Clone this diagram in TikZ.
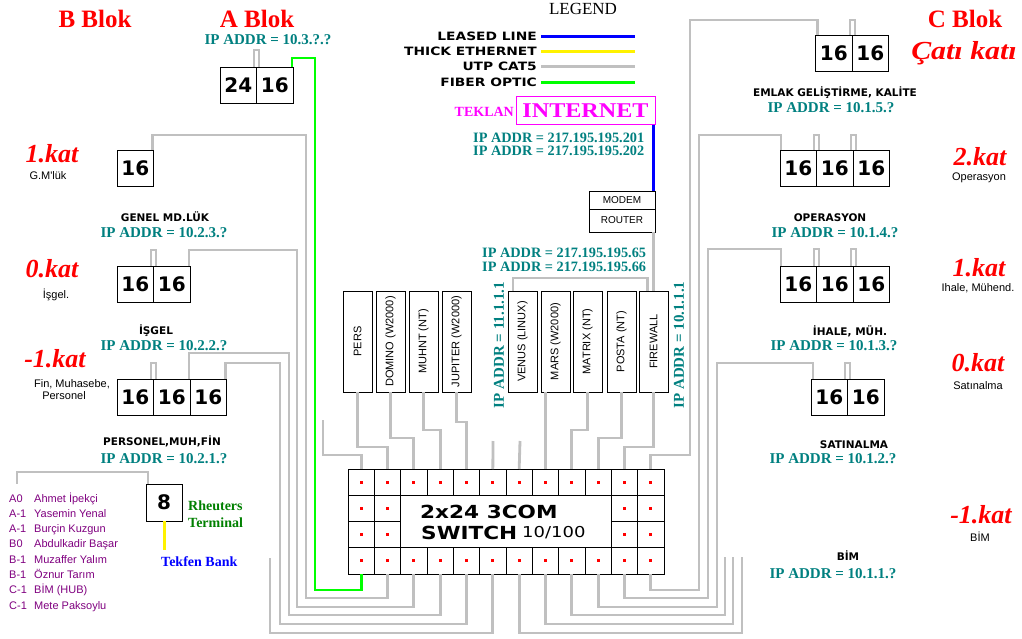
\documentclass[tikz,border=0pt]{standalone}
\usepackage{fontspec}
\setmainfont{Liberation Serif}
\newfontfamily\arialf{Liberation Sans}
\newfontfamily\verdf{DejaVu Sans}
\newfontfamily\widef{DejaVu Sans}[FakeStretch=1.2]
\usetikzlibrary{positioning}
\definecolor{cablegray}{RGB}{192,192,192}
\definecolor{fibergreen}{RGB}{0,255,0}
\definecolor{ipteal}{RGB}{0,128,128}
\definecolor{lstpurple}{RGB}{128,0,128}
\definecolor{rhgreen}{RGB}{0,128,0}
\definecolor{inetmag}{RGB}{255,0,255}

\begin{document}
\begin{tikzpicture}[x=1pt, y=-1pt, every node/.style={inner sep=0pt},
  utp/.style={draw=cablegray, line width=2.8},
  fiber/.style={draw=fibergreen, line width=2.8},
  stubline/.style={draw=cablegray, line width=2},
  numbox/.style={draw, fill=white, line width=0.9, minimum width=36.5, minimum height=36, outer sep=0,
    font=\verdf\bfseries\fontsize{20}{20}\selectfont},
  srv/.style={draw, fill=white, line width=0.9, rotate=90, minimum width=101, minimum height=29, outer sep=0,
    font=\arialf\fontsize{11}{11}\selectfont},
  ipaddr/.style={text=ipteal, font=\bfseries\fontsize{15}{15}\selectfont, anchor=base},
  ipnet/.style={text=ipteal, font=\bfseries\fontsize{14.3}{15}\selectfont, anchor=base west},
  blok/.style={text=red, font=\bfseries\fontsize{25}{25}\selectfont, anchor=base},
  katlbl/.style={text=red, font=\bfseries\itshape\fontsize{26}{26}\selectfont, anchor=base},
  dept/.style={font=\verdf\bfseries\fontsize{10.5}{11}\selectfont, anchor=base},
  note/.style={font=\arialf\fontsize{11}{12}\selectfont, anchor=base},
  lgd/.style={font=\widef\bfseries\fontsize{11.5}{12}\selectfont, anchor=base east},
  lst/.style={text=lstpurple, font=\arialf\fontsize{11}{12}\selectfont, anchor=base west}]

\useasboundingbox (0,0) rectangle (1022,639);
\fill[white] (0,0) rectangle (1022,639);

% --- legend ---
\node[font=\fontsize{17}{17}\selectfont, anchor=base] (legend) at (583,15) {LEGEND};
\node[lgd] (lg1) at (537,41) {LEASED LINE};
\node[lgd] (lg2) at (537,56) {THICK ETHERNET};
\node[lgd] (lg3) at (537,71) {UTP CAT5};
\node[lgd] (lg4) at (537,87) {FIBER OPTIC};
\draw[line width=3, blue] ([xshift=4pt,yshift=4pt]lg1.base east) -- ++(94,0);
\draw[line width=3, yellow] ([xshift=4pt,yshift=4pt]lg2.base east) -- ++(94,0);
\draw[line width=3, cablegray] ([xshift=4pt,yshift=4pt]lg3.base east) -- ++(94,0);
\draw[line width=3, fibergreen] ([xshift=4pt,yshift=4pt]lg4.base east) -- ++(94,0);

% --- blocks and floors ---
\node[blok] (bblok) at (95,28) {B Blok};
\node[blok] (ablok) at (257,28) {A Blok};
\node[blok] (cblok) at (965,28) {C Blok};
\node[katlbl] (catikati) at (964,60) {\scalebox{1.15}[1]{Çatı katı}};
\node[ipaddr] (ipa) at (268,45) {IP ADDR = 10.3.?.?};

\node[katlbl] (lk1) at (52,163) {1.kat};
\node[note] (gml) at (48,180) {G.M'lük};
\node[katlbl] (lk0) at (52,277) {0.kat};
\node[note] (isgel) at (56,298) {İşgel.};
\node[katlbl] (lkm) at (55,367) {-1.kat};
\node[note] (finmuh) at (72,387) {Fin, Muhasebe,};
\node[note] (persnl) at (64,399) {Personel};

\node[katlbl] (rk2) at (980,166) {2.kat};
\node[note] (opersy) at (979,181) {Operasyon};
\node[katlbl] (rk1) at (979,276) {1.kat};
\node[note] (ihalem) at (978,291) {Ihale, Mühend.};
\node[katlbl] (rk0) at (978,371) {0.kat};
\node[note] (satin) at (978,389) {Satınalma};
\node[katlbl] (rkm) at (981,523) {-1.kat};
\node[note] (bimk) at (980,541) {BİM};

\node[dept] (genel) at (165,222) {GENEL MD.LÜK};
\node[ipaddr] (ip23) at (164,237) {IP ADDR = 10.2.3.?};
\node[dept] (isgelb) at (156,334) {İŞGEL};
\node[ipaddr] (ip22) at (164,350) {IP ADDR = 10.2.2.?};
\node[dept] (persmf) at (162,445) {PERSONEL,MUH,FİN};
\node[ipaddr] (ip21) at (164,463) {IP ADDR = 10.2.1.?};

\node[dept] (emlak) at (835,97) {EMLAK GELİŞTİRME, KALİTE};
\node[ipaddr] (ip15) at (831,113) {IP ADDR = 10.1.5.?};
\node[dept] (operb) at (830,222) {OPERASYON};
\node[ipaddr] (ip14) at (835,237) {IP ADDR = 10.1.4.?};
\node[dept] (ihaleb) at (850,335) {İHALE, MÜH.};
\node[ipaddr] (ip13) at (834,350) {IP ADDR = 10.1.3.?};
\node[dept] (satinb) at (854,448) {SATINALMA};
\node[ipaddr] (ip12) at (833,463) {IP ADDR = 10.1.2.?};
\node[dept] (bimb) at (848,560) {BİM};
\node[ipaddr] (ip11) at (833,578) {IP ADDR = 10.1.1.?};

% --- internet, modem, router ---
\node[draw=inetmag, line width=1, text=inetmag, minimum width=139, minimum height=28, outer sep=0, anchor=north west,
  font=\bfseries\fontsize{21}{21}\selectfont] (inet) at (516,97) {\scalebox{1.15}[1]{INTERNET}};
\node[text=inetmag, font=\bfseries\fontsize{14}{14}\selectfont, anchor=base east] (teklan) at (514,117) {TEKLAN};
\node[ipnet] (ip201) at (473,143) {IP ADDR = 217.195.195.201};
\node[ipnet] (ip202) at (473,156) {IP ADDR = 217.195.195.202};
\node[draw, fill=white, line width=0.9, minimum width=66, minimum height=18, outer sep=0, anchor=north west,
  font=\arialf\fontsize{10}{10}\selectfont] (modem) at (589,191) {MODEM};
\node[draw, fill=white, line width=0.9, minimum width=66, minimum height=23, outer sep=0, below=0pt of modem,
  font=\arialf\fontsize{10}{10}\selectfont] (router) {ROUTER};
\node[ipnet] (ip65) at (482,257) {IP ADDR = 217.195.195.65};
\node[ipnet] (ip66) at (482,271) {IP ADDR = 217.195.195.66};
\node[ipaddr, rotate=90, anchor=center] (ipven) at (499,345) {IP ADDR = 11.1.1.1};
\node[ipaddr, rotate=90, anchor=center] (ipfw) at (679,345) {IP ADDR = 10.1.1.1};

% --- servers ---
\foreach \cx/\nm/\lbl in {357.5/pers/PERS, 390.5/domino/DOMINO (W2000), 423.5/muhnt/MUHNT (NT),
    456.5/jupiter/JUPITER (W2000), 522.5/venus/VENUS (LINUX), 555.5/mars/MARS (W2000),
    587.5/matrix/MATRIX (NT), 621.5/posta/POSTA (NT), 653.5/firewall/FIREWALL}
  \node[srv] (srv\nm) at (\cx,341.5) {\lbl};

% --- hubs ---
\node[numbox, anchor=north west] (ab1) at (220,67) {24};
\node[numbox, right=0pt of ab1] (ab2) {16};
\node[numbox, anchor=north west] (l1) at (117,150) {16};
\node[numbox, anchor=north west] (l0a) at (117,266) {16};
\node[numbox, right=0pt of l0a] (l0b) {16};
\node[numbox, anchor=north west] (lma) at (117,379) {16};
\node[numbox, right=0pt of lma] (lmb) {16};
\node[numbox, right=0pt of lmb] (lmc) {16};
\node[numbox, anchor=north west] (c5a) at (815.5,35) {16};
\node[numbox, right=0pt of c5a] (c5b) {16};
\node[numbox, anchor=north west] (c4a) at (780,150) {16};
\node[numbox, right=0pt of c4a] (c4b) {16};
\node[numbox, right=0pt of c4b] (c4c) {16};
\node[numbox, anchor=north west] (c3a) at (780,266) {16};
\node[numbox, right=0pt of c3a] (c3b) {16};
\node[numbox, right=0pt of c3b] (c3c) {16};
\node[numbox, anchor=north west] (c2a) at (811,379) {16};
\node[numbox, right=0pt of c2a] (c2b) {16};
\node[numbox, anchor=north west, minimum width=36, minimum height=37] (rt) at (146,484) {8};

% short loops on top of the hubs
\foreach \n/\h in {ab1/17, l0a/16, lma/16, c5a/15, c4a/15, c4b/15, c3a/17, c3b/17, c2a/16}
  \draw[stubline] ([xshift=-2.5pt]\n.north east) -- ++(0,-\h) -- ++(5,0) -- ++(0,\h);

% --- reuters terminal and list ---
\node[text=rhgreen, font=\bfseries\fontsize{14}{14}\selectfont, anchor=base west] (rh1) at (188,510) {Rheuters};
\node[text=rhgreen, font=\bfseries\fontsize{14}{14}\selectfont, anchor=base west] (rh2) at (188,527) {Terminal};
\node[text=blue, font=\bfseries\fontsize{14}{14}\selectfont, anchor=base west] (tekfen) at (161,566) {Tekfen Bank};
\draw[line width=3, yellow] (rt.south) -- ++(0,29);
\foreach \c/\nme [count=\k] in {A0/Ahmet İpekçi, A-1/Yasemin Yenal, A-1/Burçin Kuzgun, B0/Abdulkadir Başar,
    B-1/Muzaffer Yalım, B-1/Öznur Tarım, C-1/BİM (HUB), C-1/Mete Paksoylu} {
  \node[lst] (code\k) at (9,{502+15.3*(\k-1)}) {\c};
  \node[lst] (name\k) at (34,{502+15.3*(\k-1)}) {\nme};
}
\coordinate (lstend) at (17,484);
\draw[utp] ([xshift=2pt]rt.north west) -- ++(0,-12) -| (lstend);

% --- switch ---
\node[draw, line width=0.8, minimum width=316, minimum height=105, outer sep=0, anchor=north west] (sw) at (348,469) {};
\foreach \i in {1,...,12} {
  \coordinate (t\i) at ({348+26.333*(\i-0.5)},469);
  \coordinate (b\i) at ({348+26.333*(\i-0.5)},574);
}
\foreach \i in {1,...,11} \draw[line width=0.8] ({348+26.333*\i},469) -- ++(0,105);
\foreach \r in {1,2,3} \draw[line width=0.8] (348,{469+26.25*\r}) -- ++(316,0);
\node[draw, fill=white, line width=0.8, minimum width=210.7, minimum height=52.5, outer sep=0, anchor=north west]
  (swlbl) at (400.7,495.25) {};
\node[font=\widef\bfseries\fontsize{18}{18}\selectfont, anchor=base west] (swl1) at (420,518) {2x24 3COM};
\node[font=\widef\bfseries\fontsize{18}{18}\selectfont, anchor=base west] (swl2) at (421,539) {SWITCH};
\node[font=\widef\fontsize{15}{15}\selectfont, anchor=base west] (swl3) at (522,537) {10/100};
\foreach \i in {1,...,12} \foreach \r in {1,4}
  \fill[red] ({348+26.333*(\i-0.5)-1.6},{455.875+26.25*\r-1.6}) rectangle ++(3.2,3.2);
\foreach \i in {1,2,11,12} \foreach \r in {2,3}
  \fill[red] ({348+26.333*(\i-0.5)-1.6},{455.875+26.25*\r-1.6}) rectangle ++(3.2,3.2);

% --- cables, B and A block into the switch ---
\draw[fiber] ([xshift=-1pt]ab2.north east) |- (315,58) -- (315,590) -| (b1);
\draw[utp] ([xshift=-1pt]l1.north east) |- (306,135) -- (306,598) -| (b2);
\draw[utp] ([xshift=-1pt]l0b.north east) |- (297,250) -- (297,607) -| (b3);
\draw[utp] ([xshift=-1pt]lmb.north east) |- (289,353) -- (289,615) -| (b4);
\draw[utp] ([xshift=-1pt]lmc.north east) |- (280,363) -- (280,624) -| (b5);
\coordinate (lfree) at (270,558);
\draw[utp] (lfree) -- (270,633) -| (b6);

% --- cables, C block into the switch ---
\draw[utp] ([xshift=2pt]c5a.north west) |- (690,20) -- (690,455) -| (t12);
\draw[utp] ([xshift=1pt]c4a.north west) |- (699,135) -- (699,590) -| (b12);
\draw[utp] ([xshift=1pt]c3a.north west) |- (708,249) -- (708,598) -| (b11);
\draw[utp] ([xshift=2pt]c2a.north west) |- (717,363) -- (717,607) -| (b10);
\coordinate (rfree1) at (725,557);
\coordinate (rfree2) at (733,557);
\coordinate (rfree3) at (742,557);
\draw[utp] (rfree1) -- (725,615) -| (b9);
\draw[utp] (rfree2) -- (733,624) -| (b8);
\draw[utp] (rfree3) -- (742,633) -| (b7);

% --- cables, servers into the switch ---
\coordinate (tfree1) at (323,420);
\coordinate (tfree6) at (493,441);
\coordinate (tfree7) at (520,441);
\draw[utp] (tfree1) -- (323,455) -| (t1);
\draw[utp] (srvpers.west) -- ++(0,55) -| (t2);
\draw[utp] (srvdomino.west) -- ++(0,46) -| (t3);
\draw[utp] (srvmuhnt.west) -- ++(0,38) -| (t4);
\draw[utp] (srvjupiter.west) -- ++(0,30) -| (t5);
\draw[utp] (tfree6) -- (t6);
\draw[utp] (tfree7) -- (t7);
\draw[utp] (srvmars.west -| t8) -- (t8);
\draw[utp] (srvmatrix.west) -- ++(0,38) -| (t9);
\draw[utp] (srvposta.west) -- ++(0,46) -| (t10);
\draw[utp] (srvfirewall.west) -- ++(0,55) -| (t11);

% --- firewall ---
\draw[utp] ([xshift=5pt]srvvenus.north east) -- ++(0,-13) -| ([xshift=-6pt]srvfirewall.east);
\draw[utp] (router.south -| srvfirewall.east) -- (srvfirewall.east);
\draw[line width=3, blue] (inet.south -| srvfirewall.east) -- (modem.north -| srvfirewall.east);

\end{tikzpicture}
\end{document}
